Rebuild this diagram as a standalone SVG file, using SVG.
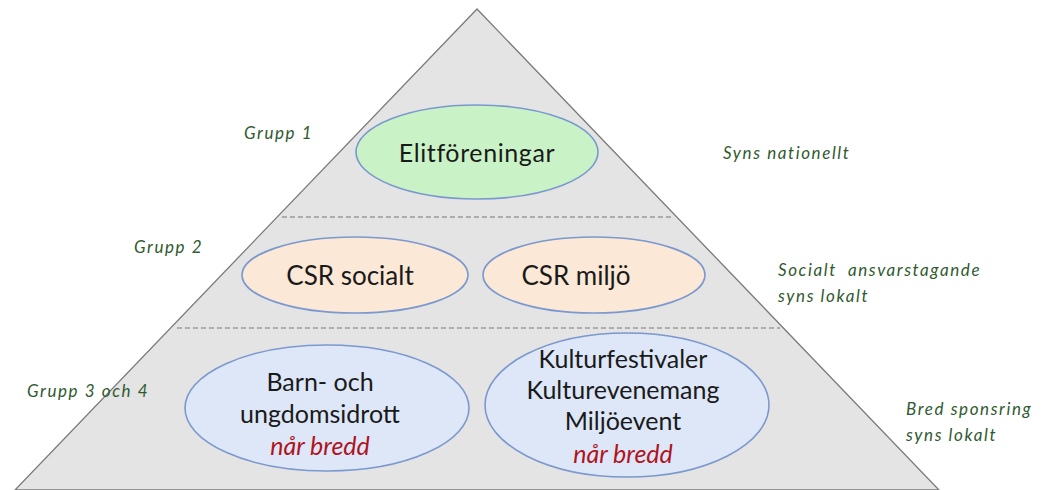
<svg xmlns="http://www.w3.org/2000/svg" width="1043" height="490" viewBox="0 0 1043 490">
<style>
.lbl{font-family:Lato,"Open Sans","Liberation Sans",sans-serif;font-size:25px;fill:#1a1a1a;text-anchor:middle}
.csr{font-size:26px}
.red{font-style:italic;fill:#b0141e}
.side{font-family:Lato,"Open Sans","Liberation Sans",sans-serif;font-size:17px;letter-spacing:1.6px;font-style:italic;fill:#2f5a2f}
.ell{stroke:#7b98cf;stroke-width:1.6}
.div{stroke:#9a9a9a;stroke-width:1.5;stroke-dasharray:5 3}
</style>
<rect width="1043" height="490" fill="#ffffff"/>
<g id="pyramid">
<polygon points="477,9 15,490 939,490" fill="#e4e4e4" stroke="#7a7a7a" stroke-width="1.3"/>
</g>
<g id="dividers">
<line class="div" x1="282" y1="217" x2="671" y2="217"/>
<line class="div" x1="177" y1="328" x2="780" y2="328"/>
</g>
<g id="connectors"></g>
<g id="elit">
<ellipse class="ell" cx="477" cy="152" rx="121" ry="47" fill="#c9f3c6"/>
<text class="lbl" x="477" y="162" style="letter-spacing:0.6px">Elitföreningar</text>
</g>
<g id="csr-socialt">
<ellipse class="ell" cx="355" cy="275" rx="113" ry="38" fill="#fbe8d6"/>
<text class="lbl csr" x="350" y="285">CSR socialt</text>
</g>
<g id="csr-miljo">
<ellipse class="ell" cx="594" cy="275" rx="111" ry="38" fill="#fbe8d6"/>
<text class="lbl csr" x="576" y="285">CSR miljö</text>
</g>
<g id="barn">
<ellipse class="ell" cx="327" cy="408" rx="142" ry="63" fill="#dde7f8"/>
<text class="lbl" x="320" y="391">Barn- och</text>
<text class="lbl" x="320" y="423">ungdomsidrott</text>
<text class="lbl red" x="320" y="455">når bredd</text>
</g>
<g id="kultur">
<ellipse class="ell" cx="627" cy="405" rx="142" ry="72" fill="#dde7f8"/>
<text class="lbl" x="623" y="368">Kulturfestivaler</text>
<text class="lbl" x="623" y="399">Kulturevenemang</text>
<text class="lbl" x="623" y="430">Miljöevent</text>
<text class="lbl red" x="623" y="463">når bredd</text>
</g>
<g id="side-labels">
<text class="side" x="244" y="139">Grupp 1</text>
<text class="side" x="723" y="159">Syns nationellt</text>
<text class="side" x="134" y="253">Grupp 2</text>
<text class="side" x="778" y="276" xml:space="preserve">Socialt  ansvarstagande</text>
<text class="side" x="778" y="302">syns lokalt</text>
<text class="side" x="27" y="397">Grupp 3 och 4</text>
<text class="side" x="906" y="415">Bred sponsring</text>
<text class="side" x="906" y="441">syns lokalt</text>
</g>
</svg>
